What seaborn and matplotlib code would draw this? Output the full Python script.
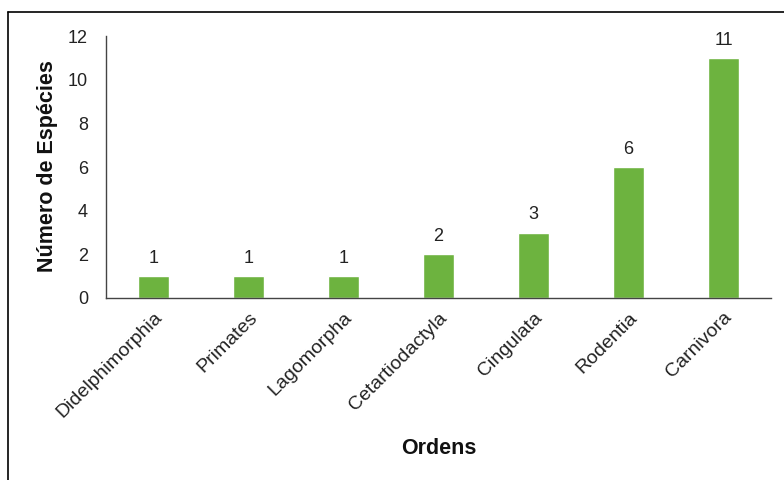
import matplotlib
matplotlib.use("Agg")
import matplotlib.pyplot as plt
import seaborn as sns
import pandas as pd
from matplotlib.lines import Line2D

ordens = ["Didelphimorphia", "Primates", "Lagomorpha", "Cetartiodactyla",
          "Cingulata", "Rodentia", "Carnivora"]
especies = [1, 1, 1, 2, 3, 6, 11]
y_ticks = [0, 2, 4, 6, 8, 10, 12]

sns.set_theme(style="white")
plt.rcParams['font.family'] = ['Liberation Sans', 'DejaVu Sans']

df = pd.DataFrame({"Ordens": ordens, "Especies": especies})

fig = plt.figure(figsize=(7.84, 4.8), dpi=100)
ax = fig.add_axes([106/784, 1-298/480, (771-106)/784, (298-36)/480])

sns.barplot(data=df, x="Ordens", y="Especies", color="#6db33f", width=0.32,
            saturation=1, ax=ax)

for i, v in enumerate(especies):
    ax.text(i, v + 0.42, str(v), ha="center", va="bottom", fontsize=13, color="#222222")

ax.set_ylim(0, 12)
ax.set_yticks(y_ticks)
ax.set_yticklabels([str(t) for t in y_ticks], fontsize=13, color="#222222")
ax.set_xlim(-0.5, len(ordens) - 0.5)
ax.set_xticks(range(len(ordens)))
ax.set_xticklabels(ordens, rotation=45, ha="right", rotation_mode="anchor",
                   fontsize=14, color="#222222")
ax.tick_params(axis="y", length=0, pad=13)
ax.tick_params(axis="x", length=0, pad=8)

for s in ["top", "right"]:
    ax.spines[s].set_visible(False)
for s in ["left", "bottom"]:
    ax.spines[s].set_color("#444444")
    ax.spines[s].set_linewidth(1.0)

ax.set_xlabel("")
ax.set_ylabel("")
fig.text(439/784, 1-448/480, "Ordens", ha="center", va="center",
         fontsize=15.5, fontweight="bold", color="#111111")
fig.text(48/784, 1-166/480, "Número de Espécies", ha="center", va="center",
         rotation=90, fontsize=15.5, fontweight="bold", color="#111111")

# figure frame (top and left visible)
fig.add_artist(Line2D([8/784, 1.0], [1-12/480, 1-12/480], transform=fig.transFigure,
                      color="black", linewidth=1.2))
fig.add_artist(Line2D([8/784, 8/784], [0, 1-12/480], transform=fig.transFigure,
                      color="black", linewidth=1.2))

fig.savefig("out.png", dpi=100, facecolor="white")
